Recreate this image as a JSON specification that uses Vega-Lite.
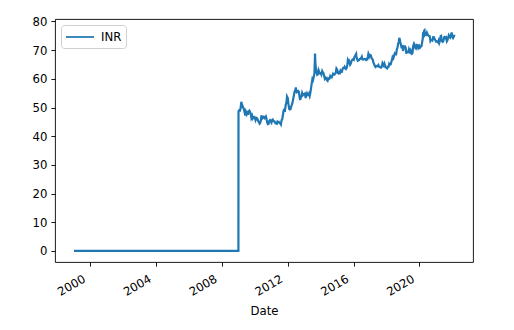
{
  "$schema": "https://vega.github.io/schema/vega-lite/v6.json",
  "width": 418,
  "height": 243,
  "autosize": {"type": "none"},
  "padding": {"left": 55, "top": 19, "right": 41, "bottom": 68},
  "background": "white",
  "config": {
    "view": {"stroke": "#000000", "strokeWidth": 0.9},
    "font": "DejaVu Sans",
    "axis": {
      "labelFont": "DejaVu Sans", "labelFontSize": 11.7, "labelColor": "#000000",
      "titleFont": "DejaVu Sans", "titleFontSize": 11.7, "titleFontWeight": "normal", "titleColor": "#000000",
      "tickColor": "#000000", "tickSize": 4.1, "tickWidth": 0.9, "labelPadding": 4, "domain": false, "grid": false
    },
    "legend": {
      "labelFont": "DejaVu Sans", "labelFontSize": 11.7, "labelColor": "#000000"
    }
  },
  "data": {
    "values": [
      {"Date": "1999-01-04", "INR": 0},
      {"Date": "2008-12-31", "INR": 0},
      {"Date": "2009-01-02", "INR": 48.6},
      {"Date": "2009-01-15", "INR": 49.0},
      {"Date": "2009-02-02", "INR": 48.9},
      {"Date": "2009-02-16", "INR": 49.6},
      {"Date": "2009-03-02", "INR": 51.5},
      {"Date": "2009-03-09", "INR": 52.0},
      {"Date": "2009-03-20", "INR": 50.4},
      {"Date": "2009-04-01", "INR": 50.6},
      {"Date": "2009-04-15", "INR": 50.0},
      {"Date": "2009-05-01", "INR": 49.5},
      {"Date": "2009-05-15", "INR": 48.5},
      {"Date": "2009-06-01", "INR": 47.2},
      {"Date": "2009-06-15", "INR": 48.5},
      {"Date": "2009-07-01", "INR": 47.8},
      {"Date": "2009-07-15", "INR": 48.8},
      {"Date": "2009-08-03", "INR": 47.5},
      {"Date": "2009-08-17", "INR": 48.7},
      {"Date": "2009-09-01", "INR": 48.9},
      {"Date": "2009-09-15", "INR": 48.4},
      {"Date": "2009-10-01", "INR": 47.9},
      {"Date": "2009-10-15", "INR": 46.4},
      {"Date": "2009-11-02", "INR": 47.1},
      {"Date": "2009-11-16", "INR": 46.2},
      {"Date": "2009-12-01", "INR": 46.6},
      {"Date": "2009-12-15", "INR": 46.7},
      {"Date": "2010-01-04", "INR": 46.2},
      {"Date": "2010-01-15", "INR": 45.6},
      {"Date": "2010-02-01", "INR": 46.4},
      {"Date": "2010-02-15", "INR": 46.3},
      {"Date": "2010-03-01", "INR": 45.9},
      {"Date": "2010-03-15", "INR": 45.3},
      {"Date": "2010-04-01", "INR": 44.9},
      {"Date": "2010-04-15", "INR": 44.4},
      {"Date": "2010-05-03", "INR": 44.8},
      {"Date": "2010-05-17", "INR": 45.8},
      {"Date": "2010-05-25", "INR": 47.3},
      {"Date": "2010-06-01", "INR": 46.8},
      {"Date": "2010-06-15", "INR": 46.2},
      {"Date": "2010-07-01", "INR": 46.5},
      {"Date": "2010-07-15", "INR": 46.7},
      {"Date": "2010-08-02", "INR": 46.3},
      {"Date": "2010-08-16", "INR": 46.6},
      {"Date": "2010-09-01", "INR": 46.9},
      {"Date": "2010-09-15", "INR": 46.1},
      {"Date": "2010-10-01", "INR": 44.8},
      {"Date": "2010-10-15", "INR": 44.2},
      {"Date": "2010-11-01", "INR": 44.3},
      {"Date": "2010-11-15", "INR": 45.3},
      {"Date": "2010-12-01", "INR": 45.6},
      {"Date": "2010-12-15", "INR": 45.2},
      {"Date": "2011-01-03", "INR": 44.7},
      {"Date": "2011-01-17", "INR": 45.6},
      {"Date": "2011-02-01", "INR": 45.8},
      {"Date": "2011-02-15", "INR": 45.4},
      {"Date": "2011-03-01", "INR": 45.2},
      {"Date": "2011-03-15", "INR": 45.1},
      {"Date": "2011-04-01", "INR": 44.5},
      {"Date": "2011-04-15", "INR": 44.4},
      {"Date": "2011-05-02", "INR": 44.3},
      {"Date": "2011-05-16", "INR": 45.1},
      {"Date": "2011-06-01", "INR": 44.9},
      {"Date": "2011-06-15", "INR": 45.0},
      {"Date": "2011-07-01", "INR": 44.6},
      {"Date": "2011-07-15", "INR": 44.5},
      {"Date": "2011-08-01", "INR": 44.1},
      {"Date": "2011-08-16", "INR": 45.6},
      {"Date": "2011-09-01", "INR": 46.0},
      {"Date": "2011-09-15", "INR": 47.4},
      {"Date": "2011-10-03", "INR": 49.1},
      {"Date": "2011-10-17", "INR": 49.3},
      {"Date": "2011-11-01", "INR": 49.1},
      {"Date": "2011-11-15", "INR": 50.8},
      {"Date": "2011-12-01", "INR": 51.7},
      {"Date": "2011-12-15", "INR": 53.8},
      {"Date": "2012-01-02", "INR": 53.2},
      {"Date": "2012-01-16", "INR": 51.2},
      {"Date": "2012-02-01", "INR": 49.5},
      {"Date": "2012-02-15", "INR": 49.3},
      {"Date": "2012-03-01", "INR": 49.4},
      {"Date": "2012-03-15", "INR": 50.3},
      {"Date": "2012-04-02", "INR": 51.0},
      {"Date": "2012-04-16", "INR": 51.8},
      {"Date": "2012-05-01", "INR": 53.0},
      {"Date": "2012-05-15", "INR": 54.2},
      {"Date": "2012-06-01", "INR": 55.6},
      {"Date": "2012-06-15", "INR": 56.0},
      {"Date": "2012-06-27", "INR": 57.0},
      {"Date": "2012-07-02", "INR": 55.6},
      {"Date": "2012-07-16", "INR": 55.3},
      {"Date": "2012-08-01", "INR": 55.6},
      {"Date": "2012-08-15", "INR": 55.8},
      {"Date": "2012-09-03", "INR": 55.5},
      {"Date": "2012-09-17", "INR": 53.8},
      {"Date": "2012-10-01", "INR": 52.6},
      {"Date": "2012-10-15", "INR": 53.4},
      {"Date": "2012-11-01", "INR": 54.0},
      {"Date": "2012-11-15", "INR": 55.1},
      {"Date": "2012-12-03", "INR": 54.4},
      {"Date": "2012-12-17", "INR": 54.7},
      {"Date": "2013-01-02", "INR": 54.8},
      {"Date": "2013-01-15", "INR": 54.9},
      {"Date": "2013-02-01", "INR": 53.3},
      {"Date": "2013-02-15", "INR": 54.3},
      {"Date": "2013-03-01", "INR": 54.9},
      {"Date": "2013-03-15", "INR": 54.3},
      {"Date": "2013-04-01", "INR": 54.3},
      {"Date": "2013-04-15", "INR": 54.8},
      {"Date": "2013-05-01", "INR": 54.0},
      {"Date": "2013-05-15", "INR": 55.0},
      {"Date": "2013-06-03", "INR": 57.0},
      {"Date": "2013-06-17", "INR": 58.6},
      {"Date": "2013-07-01", "INR": 60.0},
      {"Date": "2013-07-15", "INR": 59.6},
      {"Date": "2013-08-01", "INR": 60.8},
      {"Date": "2013-08-15", "INR": 62.0},
      {"Date": "2013-08-28", "INR": 68.8},
      {"Date": "2013-09-03", "INR": 66.0},
      {"Date": "2013-09-16", "INR": 63.5},
      {"Date": "2013-10-01", "INR": 62.3},
      {"Date": "2013-10-15", "INR": 61.4},
      {"Date": "2013-11-01", "INR": 61.6},
      {"Date": "2013-11-15", "INR": 63.0},
      {"Date": "2013-12-02", "INR": 62.3},
      {"Date": "2013-12-16", "INR": 61.9},
      {"Date": "2014-01-02", "INR": 62.0},
      {"Date": "2014-01-15", "INR": 61.5},
      {"Date": "2014-02-03", "INR": 62.7},
      {"Date": "2014-02-17", "INR": 62.2},
      {"Date": "2014-03-03", "INR": 62.0},
      {"Date": "2014-03-17", "INR": 61.1},
      {"Date": "2014-04-01", "INR": 60.1},
      {"Date": "2014-04-15", "INR": 60.5},
      {"Date": "2014-05-01", "INR": 60.3},
      {"Date": "2014-05-15", "INR": 59.6},
      {"Date": "2014-06-02", "INR": 59.3},
      {"Date": "2014-06-16", "INR": 60.1},
      {"Date": "2014-07-01", "INR": 59.9},
      {"Date": "2014-07-15", "INR": 60.1},
      {"Date": "2014-08-01", "INR": 61.0},
      {"Date": "2014-08-15", "INR": 60.7},
      {"Date": "2014-09-01", "INR": 60.5},
      {"Date": "2014-09-15", "INR": 61.0},
      {"Date": "2014-10-01", "INR": 61.7},
      {"Date": "2014-10-15", "INR": 61.4},
      {"Date": "2014-11-03", "INR": 61.5},
      {"Date": "2014-11-17", "INR": 61.9},
      {"Date": "2014-12-01", "INR": 62.1},
      {"Date": "2014-12-16", "INR": 63.6},
      {"Date": "2015-01-02", "INR": 63.2},
      {"Date": "2015-01-15", "INR": 62.1},
      {"Date": "2015-02-02", "INR": 61.9},
      {"Date": "2015-02-16", "INR": 62.2},
      {"Date": "2015-03-02", "INR": 62.0},
      {"Date": "2015-03-16", "INR": 62.8},
      {"Date": "2015-04-01", "INR": 62.4},
      {"Date": "2015-04-15", "INR": 62.4},
      {"Date": "2015-05-04", "INR": 63.5},
      {"Date": "2015-05-15", "INR": 63.8},
      {"Date": "2015-06-01", "INR": 63.8},
      {"Date": "2015-06-15", "INR": 64.2},
      {"Date": "2015-07-01", "INR": 63.6},
      {"Date": "2015-07-15", "INR": 63.4},
      {"Date": "2015-08-03", "INR": 63.9},
      {"Date": "2015-08-17", "INR": 65.1},
      {"Date": "2015-08-26", "INR": 66.5},
      {"Date": "2015-09-01", "INR": 66.3},
      {"Date": "2015-09-15", "INR": 66.5},
      {"Date": "2015-10-01", "INR": 65.6},
      {"Date": "2015-10-15", "INR": 64.9},
      {"Date": "2015-11-02", "INR": 65.4},
      {"Date": "2015-11-16", "INR": 66.3},
      {"Date": "2015-12-01", "INR": 66.6},
      {"Date": "2015-12-15", "INR": 66.8},
      {"Date": "2016-01-04", "INR": 66.6},
      {"Date": "2016-01-18", "INR": 67.6},
      {"Date": "2016-02-01", "INR": 67.9},
      {"Date": "2016-02-15", "INR": 68.4},
      {"Date": "2016-02-26", "INR": 68.7},
      {"Date": "2016-03-01", "INR": 68.0},
      {"Date": "2016-03-15", "INR": 67.0},
      {"Date": "2016-04-01", "INR": 66.3},
      {"Date": "2016-04-15", "INR": 66.4},
      {"Date": "2016-05-02", "INR": 66.6},
      {"Date": "2016-05-16", "INR": 66.9},
      {"Date": "2016-06-01", "INR": 67.0},
      {"Date": "2016-06-15", "INR": 67.2},
      {"Date": "2016-07-01", "INR": 67.7},
      {"Date": "2016-07-15", "INR": 66.8},
      {"Date": "2016-08-01", "INR": 66.7},
      {"Date": "2016-08-16", "INR": 66.8},
      {"Date": "2016-09-01", "INR": 66.9},
      {"Date": "2016-09-15", "INR": 66.8},
      {"Date": "2016-10-03", "INR": 66.6},
      {"Date": "2016-10-17", "INR": 66.9},
      {"Date": "2016-11-01", "INR": 66.8},
      {"Date": "2016-11-15", "INR": 67.9},
      {"Date": "2016-11-24", "INR": 68.7},
      {"Date": "2016-12-01", "INR": 68.4},
      {"Date": "2016-12-15", "INR": 67.7},
      {"Date": "2017-01-02", "INR": 68.3},
      {"Date": "2017-01-16", "INR": 68.2},
      {"Date": "2017-02-01", "INR": 67.3},
      {"Date": "2017-02-15", "INR": 66.9},
      {"Date": "2017-03-01", "INR": 66.7},
      {"Date": "2017-03-15", "INR": 65.7},
      {"Date": "2017-04-03", "INR": 65.0},
      {"Date": "2017-04-17", "INR": 64.5},
      {"Date": "2017-05-02", "INR": 64.1},
      {"Date": "2017-05-15", "INR": 64.3},
      {"Date": "2017-06-01", "INR": 64.5},
      {"Date": "2017-06-15", "INR": 64.4},
      {"Date": "2017-07-03", "INR": 64.8},
      {"Date": "2017-07-17", "INR": 64.3},
      {"Date": "2017-08-01", "INR": 64.1},
      {"Date": "2017-08-15", "INR": 64.0},
      {"Date": "2017-09-01", "INR": 63.9},
      {"Date": "2017-09-15", "INR": 64.2},
      {"Date": "2017-10-02", "INR": 65.4},
      {"Date": "2017-10-16", "INR": 64.9},
      {"Date": "2017-11-01", "INR": 64.5},
      {"Date": "2017-11-15", "INR": 65.3},
      {"Date": "2017-12-01", "INR": 64.6},
      {"Date": "2017-12-15", "INR": 64.1},
      {"Date": "2018-01-02", "INR": 63.7},
      {"Date": "2018-01-15", "INR": 63.6},
      {"Date": "2018-02-01", "INR": 64.2},
      {"Date": "2018-02-15", "INR": 64.2},
      {"Date": "2018-03-01", "INR": 65.2},
      {"Date": "2018-03-15", "INR": 64.9},
      {"Date": "2018-04-02", "INR": 65.0},
      {"Date": "2018-04-16", "INR": 65.8},
      {"Date": "2018-05-01", "INR": 66.6},
      {"Date": "2018-05-15", "INR": 67.6},
      {"Date": "2018-06-01", "INR": 67.2},
      {"Date": "2018-06-15", "INR": 67.9},
      {"Date": "2018-07-02", "INR": 68.8},
      {"Date": "2018-07-16", "INR": 68.5},
      {"Date": "2018-08-01", "INR": 68.5},
      {"Date": "2018-08-16", "INR": 70.2},
      {"Date": "2018-09-03", "INR": 71.0},
      {"Date": "2018-09-14", "INR": 72.1},
      {"Date": "2018-10-01", "INR": 72.9},
      {"Date": "2018-10-11", "INR": 74.3},
      {"Date": "2018-10-25", "INR": 73.5},
      {"Date": "2018-11-01", "INR": 72.9},
      {"Date": "2018-11-15", "INR": 72.0},
      {"Date": "2018-12-03", "INR": 70.6},
      {"Date": "2018-12-17", "INR": 71.8},
      {"Date": "2019-01-02", "INR": 69.7},
      {"Date": "2019-01-15", "INR": 70.8},
      {"Date": "2019-02-01", "INR": 71.3},
      {"Date": "2019-02-15", "INR": 71.3},
      {"Date": "2019-03-01", "INR": 70.9},
      {"Date": "2019-03-15", "INR": 69.1},
      {"Date": "2019-04-01", "INR": 69.2},
      {"Date": "2019-04-15", "INR": 69.4},
      {"Date": "2019-05-02", "INR": 69.3},
      {"Date": "2019-05-15", "INR": 70.3},
      {"Date": "2019-06-03", "INR": 69.5},
      {"Date": "2019-06-17", "INR": 69.9},
      {"Date": "2019-07-01", "INR": 68.9},
      {"Date": "2019-07-15", "INR": 68.7},
      {"Date": "2019-08-01", "INR": 69.0},
      {"Date": "2019-08-15", "INR": 71.4},
      {"Date": "2019-09-02", "INR": 72.2},
      {"Date": "2019-09-16", "INR": 71.6},
      {"Date": "2019-10-01", "INR": 70.9},
      {"Date": "2019-10-15", "INR": 71.4},
      {"Date": "2019-11-01", "INR": 70.8},
      {"Date": "2019-11-15", "INR": 71.8},
      {"Date": "2019-12-02", "INR": 71.7},
      {"Date": "2019-12-16", "INR": 70.9},
      {"Date": "2020-01-02", "INR": 71.4},
      {"Date": "2020-01-15", "INR": 70.9},
      {"Date": "2020-02-03", "INR": 71.3},
      {"Date": "2020-02-17", "INR": 71.4},
      {"Date": "2020-03-02", "INR": 72.8},
      {"Date": "2020-03-16", "INR": 74.2},
      {"Date": "2020-03-23", "INR": 76.2},
      {"Date": "2020-04-01", "INR": 75.5},
      {"Date": "2020-04-16", "INR": 76.8},
      {"Date": "2020-04-22", "INR": 76.9},
      {"Date": "2020-05-01", "INR": 75.3},
      {"Date": "2020-05-15", "INR": 75.6},
      {"Date": "2020-06-01", "INR": 75.4},
      {"Date": "2020-06-15", "INR": 76.1},
      {"Date": "2020-07-01", "INR": 75.5},
      {"Date": "2020-07-15", "INR": 75.1},
      {"Date": "2020-08-03", "INR": 74.9},
      {"Date": "2020-08-17", "INR": 74.8},
      {"Date": "2020-09-01", "INR": 73.2},
      {"Date": "2020-09-15", "INR": 73.6},
      {"Date": "2020-10-01", "INR": 73.6},
      {"Date": "2020-10-15", "INR": 73.4},
      {"Date": "2020-11-02", "INR": 74.5},
      {"Date": "2020-11-16", "INR": 74.5},
      {"Date": "2020-12-01", "INR": 73.9},
      {"Date": "2020-12-15", "INR": 73.6},
      {"Date": "2021-01-04", "INR": 73.0},
      {"Date": "2021-01-15", "INR": 73.1},
      {"Date": "2021-02-01", "INR": 72.9},
      {"Date": "2021-02-15", "INR": 72.7},
      {"Date": "2021-03-01", "INR": 73.3},
      {"Date": "2021-03-15", "INR": 72.5},
      {"Date": "2021-04-01", "INR": 73.3},
      {"Date": "2021-04-15", "INR": 74.9},
      {"Date": "2021-04-26", "INR": 75.0},
      {"Date": "2021-05-03", "INR": 74.0},
      {"Date": "2021-05-17", "INR": 73.1},
      {"Date": "2021-06-01", "INR": 72.9},
      {"Date": "2021-06-15", "INR": 73.2},
      {"Date": "2021-07-01", "INR": 74.5},
      {"Date": "2021-07-15", "INR": 74.6},
      {"Date": "2021-08-02", "INR": 74.2},
      {"Date": "2021-08-16", "INR": 74.4},
      {"Date": "2021-09-01", "INR": 73.1},
      {"Date": "2021-09-15", "INR": 73.5},
      {"Date": "2021-10-01", "INR": 74.3},
      {"Date": "2021-10-15", "INR": 75.2},
      {"Date": "2021-11-01", "INR": 74.7},
      {"Date": "2021-11-15", "INR": 74.4},
      {"Date": "2021-12-01", "INR": 75.1},
      {"Date": "2021-12-15", "INR": 76.2},
      {"Date": "2022-01-03", "INR": 74.6},
      {"Date": "2022-01-17", "INR": 74.2},
      {"Date": "2022-02-01", "INR": 74.6},
      {"Date": "2022-02-11", "INR": 75.3},
      {"Date": "2022-02-18", "INR": 74.9}
    ]
  },
  "mark": {"type": "line", "strokeWidth": 2.2, "clip": true},
  "encoding": {
    "x": {
      "field": "Date", "type": "temporal",
      "scale": {"type": "utc", "domain": [{"year": 1997, "month": 11, "date": 8, "utc": true}, {"year": 2023, "month": 4, "date": 4, "utc": true}], "nice": false},
      "axis": {
        "values": [
          {"year": 2000, "utc": true}, {"year": 2004, "utc": true}, {"year": 2008, "utc": true},
          {"year": 2012, "utc": true}, {"year": 2016, "utc": true}, {"year": 2020, "utc": true}
        ],
        "format": "%Y", "labelAngle": -30, "labelAlign": "right", "labelBaseline": "top",
        "labelOffset": -9, "labelPadding": 7, "title": "Date", "titlePadding": 7
      }
    },
    "y": {
      "field": "INR", "type": "quantitative",
      "scale": {"domain": [-3.85, 80.85], "nice": false, "zero": false},
      "axis": {"values": [0, 10, 20, 30, 40, 50, 60, 70, 80], "title": null}
    },
    "color": {
      "datum": "INR",
      "scale": {"range": ["#1f77b4"]},
      "legend": {
        "title": null, "orient": "top-left", "offset": 6,
        "symbolType": "M-2,0H2", "symbolStrokeWidth": 1.75, "symbolSize": 196, "symbolOffset": 7,
        "labelOffset": 13, "padding": 4, "strokeColor": "#d0d0d0", "fillColor": "white", "cornerRadius": 3
      }
    }
  }
}
